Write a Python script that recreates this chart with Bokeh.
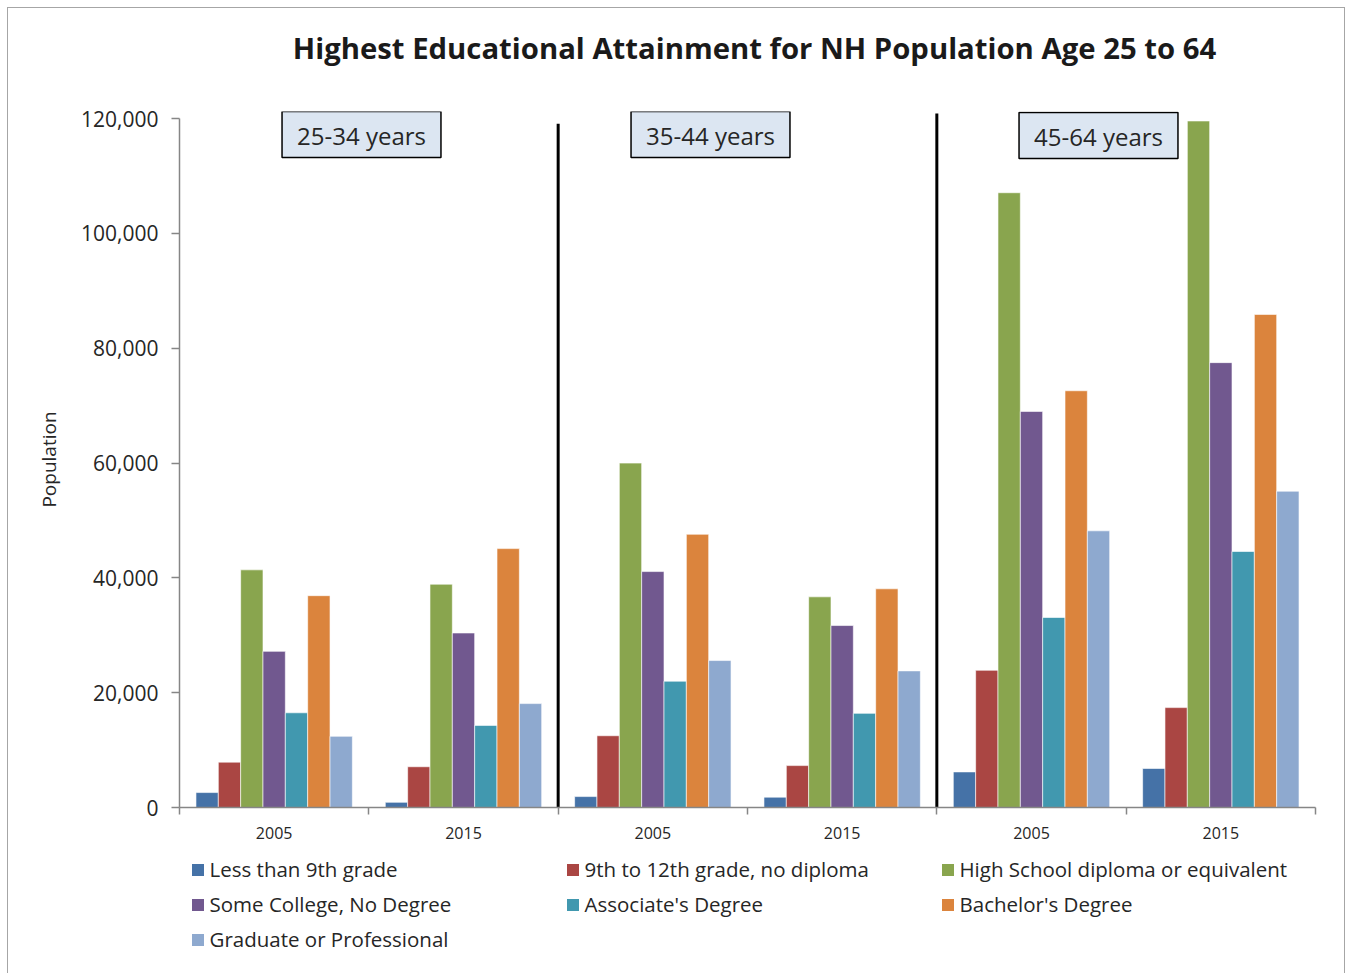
from bokeh.plotting import figure
from bokeh.layouts import column
from bokeh.models import (ColumnDataSource, FixedTicker, NumeralTickFormatter,
                          Label, Legend, LegendItem, Range1d)
from bokeh.embed import file_html
from bokeh.resources import INLINE

title = "Highest Educational Attainment for NH Population Age 25 to 64"
age_groups = ["25-34 years", "35-44 years", "45-64 years"]
years = ["2005", "2015"]
categories = ["Less than 9th grade", "9th to 12th grade, no diploma",
              "High School diploma or equivalent", "Some College, No Degree",
              "Associate's Degree", "Bachelor's Degree", "Graduate or Professional"]
colors = ["#4572A7", "#AA4643", "#89A54E", "#71588F", "#4198AF", "#DB843D", "#8EA9CF"]

# values per group: (25-34 2005, 25-34 2015, 35-44 2005, 35-44 2015, 45-64 2005, 45-64 2015)
less_than_9th = [2600, 900, 1900, 1800, 6200, 6800]
grade_9_to_12 = [7900, 7100, 12500, 7300, 23900, 17400]
high_school = [41400, 38900, 60000, 36700, 107100, 119600]
some_college = [27200, 30400, 41100, 31700, 69000, 77500]
associates = [16500, 14300, 22000, 16400, 33100, 44600]
bachelors = [36900, 45100, 47600, 38100, 72600, 85900]
graduate = [12400, 18100, 25600, 23800, 48200, 55100]
series = [less_than_9th, grade_9_to_12, high_school, some_college, associates, bachelors, graduate]
y_ticks = [0, 20000, 40000, 60000, 80000, 100000, 120000]

n_groups = len(age_groups) * len(years)
group_labels = [y for _ in age_groups for y in years]

FONT = "Open Sans"
TXT = "#262626"
AX = "#868686"
BORDER = "1px solid #a6a6a6"
W = 1338


def blank(height, styles):
    f = figure(width=W, height=height, x_range=Range1d(0, 1), y_range=Range1d(0, 1),
               output_backend="svg", toolbar_location=None, min_border=0,
               x_axis_location=None, y_axis_location=None, styles=styles)
    f.outline_line_color = None
    f.xgrid.visible = False
    f.ygrid.visible = False
    return f


# ---- title strip ----
p0 = blank(63, {"border-top": BORDER, "border-left": BORDER, "border-right": BORDER})
p0.add_layout(Label(x=575, y=24, x_units="screen", y_units="screen", text=title,
                    text_align="center", text_baseline="middle", text_font=FONT,
                    text_font_size="29.3px", text_font_style="bold",
                    text_color="#1a1a1a"))

# ---- main chart ----
p = figure(width=W, height=781, x_range=Range1d(-0.5, n_groups - 0.5),
           y_range=Range1d(0, 121250), output_backend="svg", toolbar_location=None,
           min_border_left=171, min_border_right=31, min_border_top=41,
           min_border_bottom=44,
           styles={"border-left": BORDER, "border-right": BORDER})
p.outline_line_color = None
p.xgrid.visible = False
p.ygrid.visible = False

bar_w = 0.118
renderers = []
for i, (cat, col, vals) in enumerate(zip(categories, colors, series)):
    xs = [g + (i - 3) * bar_w for g in range(n_groups)]
    src = ColumnDataSource(dict(x=xs, top=vals))
    r = p.vbar(x="x", top="top", width=bar_w, source=src, fill_color=col,
               line_color="white", line_width=1, line_alpha=0.6)
    renderers.append(r)

# separators between age groups
seps = [k * len(years) - 0.5 for k in range(1, len(age_groups))]
p.segment(x0=seps, x1=seps, y0=[0] * len(seps), y1=[119100, 120900],
          line_color="black", line_width=3)

# axes
p.yaxis.ticker = FixedTicker(ticks=y_ticks)
p.yaxis.bounds = (0, 120000)
p.yaxis.formatter = NumeralTickFormatter(format="0,0")
p.yaxis.major_tick_out = 8
p.yaxis.major_tick_in = 0
p.yaxis.minor_tick_line_color = None
p.yaxis.axis_line_color = AX
p.yaxis.axis_line_width = 1.5
p.yaxis.major_tick_line_color = AX
p.yaxis.major_tick_line_width = 1.5
p.yaxis.major_label_text_font = FONT
p.yaxis.major_label_text_font_size = "21px"
p.yaxis.major_label_text_color = TXT
p.yaxis.major_label_standoff = 13
p.yaxis.axis_label = "Population"
p.yaxis.axis_label_text_font = FONT
p.yaxis.axis_label_text_font_size = "19px"
p.yaxis.axis_label_text_font_style = "normal"
p.yaxis.axis_label_text_color = TXT
p.yaxis.axis_label_standoff = 16

p.xaxis.ticker = FixedTicker(ticks=list(range(n_groups)),
                             minor_ticks=[g - 0.5 for g in range(n_groups + 1)])
p.xaxis.major_label_overrides = {g: group_labels[g] for g in range(n_groups)}
p.xaxis.major_tick_out = 0
p.xaxis.major_tick_in = 0
p.xaxis.minor_tick_out = 7
p.xaxis.minor_tick_in = 0
p.xaxis.minor_tick_line_color = AX
p.xaxis.minor_tick_line_width = 1.5
p.xaxis.axis_line_color = AX
p.xaxis.axis_line_width = 1.5
p.xaxis.major_label_text_font = FONT
p.xaxis.major_label_text_font_size = "16px"
p.xaxis.major_label_text_color = TXT
p.xaxis.major_label_standoff = 12

# age group boxes
box_x = [182, 531, 919]
box_y = [673, 673, 672]
for name, bx, by in zip(age_groups, box_x, box_y):
    p.add_layout(Label(x=bx, y=by, x_units="screen", y_units="screen", text=name,
                       text_align="center", text_baseline="middle", text_font=FONT,
                       text_font_size="24px", text_color=TXT,
                       background_fill_color="#DCE6F2", border_line_color="black",
                       border_line_width=1.5,
                       padding=dict(left=15, right=15, top=7, bottom=6)))

# ---- legend strip ----
p2 = blank(122, {"border-left": BORDER, "border-right": BORDER})
items = []
for cat, col in zip(categories, colors):
    r = p2.vbar(x=[0], top=[0], width=0.001, fill_color=col, line_color=None)
    items.append(LegendItem(label=cat, renderers=[r]))
leg = Legend(items=items, location=(10.5, 20), orientation="horizontal", ncols=3,
             glyph_width=15, glyph_height=15, label_standoff=5, spacing=7,
             padding=0, margin=0, label_height=27, label_width=348,
             border_line_alpha=0, background_fill_alpha=0,
             label_text_font=FONT, label_text_font_size="20.5px",
             label_text_color=TXT)
p2.add_layout(leg)

layout = column(p0, p, p2, spacing=0, styles={"margin": "7px 0 0 7px"})
open("out.html", "w").write(file_html(layout, INLINE))
